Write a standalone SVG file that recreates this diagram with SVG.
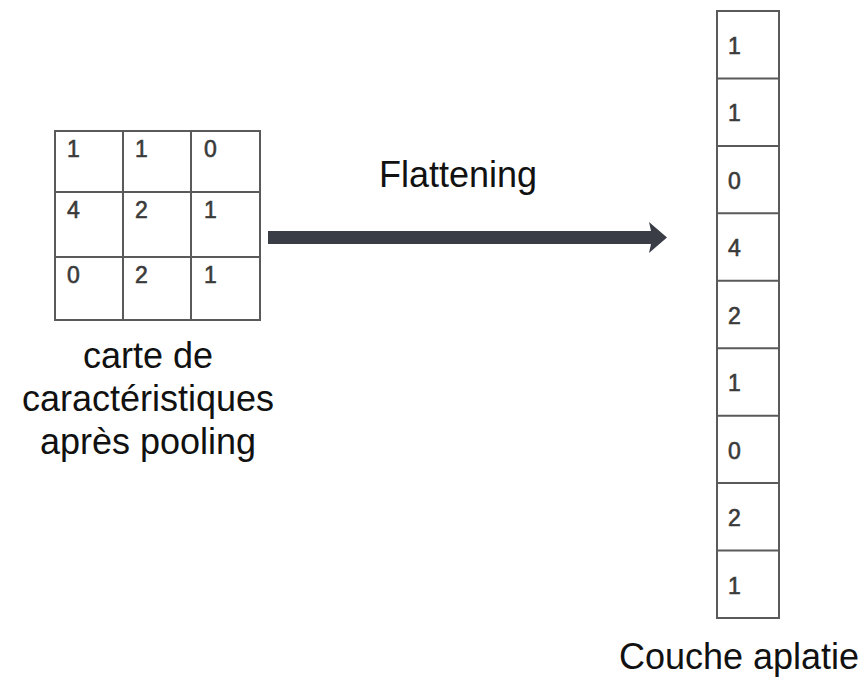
<svg xmlns="http://www.w3.org/2000/svg" width="868" height="686" viewBox="0 0 868 686">
  <style>
    .cell { fill: #ffffff; stroke: #5a5a5a; stroke-width: 2; }
    .num { font-family: "Liberation Sans", Arial, sans-serif; font-size: 23px; fill: #3a3a3a; stroke: #3a3a3a; stroke-width: 0.6; }
    .label { font-family: "Liberation Sans", Arial, sans-serif; font-size: 36px; fill: #111111; }
    .arrow { fill: #3a3d46; }
  </style>
  <rect width="868" height="686" fill="#ffffff"/>

  <!-- pooled feature map, 3x3 -->
  <g id="feature-map">
    <rect class="cell" x="55" y="131" width="205" height="189"/>
    <line class="cell" x1="123" y1="131" x2="123" y2="320"/>
    <line class="cell" x1="191" y1="131" x2="191" y2="320"/>
    <line class="cell" x1="55" y1="192" x2="260" y2="192"/>
    <line class="cell" x1="55" y1="257" x2="260" y2="257"/>
    <text class="num" x="67" y="157">1</text>
    <text class="num" x="135" y="157">1</text>
    <text class="num" x="204" y="157">0</text>
    <text class="num" x="67" y="218">4</text>
    <text class="num" x="135" y="218">2</text>
    <text class="num" x="204" y="218">1</text>
    <text class="num" x="67" y="283">0</text>
    <text class="num" x="135" y="283">2</text>
    <text class="num" x="204" y="283">1</text>
  </g>

  <g id="feature-map-label">
    <text class="label" x="148" y="368" text-anchor="middle">carte de</text>
    <text class="label" x="148" y="411" text-anchor="middle">caractéristiques</text>
    <text class="label" x="148" y="454" text-anchor="middle">après pooling</text>
  </g>

  <!-- flattening step: thick shaft with a solid head -->
  <g id="connectors">
    <polygon class="arrow" points="268,231 651,231 649,222 667,237.5 649,253 651,244 268,244"/>
  </g>
  <g id="flatten-label">
    <text class="label" x="458" y="187" text-anchor="middle">Flattening</text>
  </g>

  <!-- flattened column, 9 cells -->
  <g id="flat-layer">
    <rect class="cell" x="717" y="11" width="62" height="607"/>
    <line class="cell" x1="717" y1="78.4" x2="779" y2="78.4"/>
    <line class="cell" x1="717" y1="145.9" x2="779" y2="145.9"/>
    <line class="cell" x1="717" y1="213.3" x2="779" y2="213.3"/>
    <line class="cell" x1="717" y1="280.8" x2="779" y2="280.8"/>
    <line class="cell" x1="717" y1="348.2" x2="779" y2="348.2"/>
    <line class="cell" x1="717" y1="415.7" x2="779" y2="415.7"/>
    <line class="cell" x1="717" y1="483.1" x2="779" y2="483.1"/>
    <line class="cell" x1="717" y1="550.6" x2="779" y2="550.6"/>
    <text class="num" x="728" y="54">1</text>
    <text class="num" x="728" y="121.4">1</text>
    <text class="num" x="728" y="188.9">0</text>
    <text class="num" x="728" y="256.3">4</text>
    <text class="num" x="728" y="323.8">2</text>
    <text class="num" x="728" y="391.2">1</text>
    <text class="num" x="728" y="458.7">0</text>
    <text class="num" x="728" y="526.1">2</text>
    <text class="num" x="728" y="593.6">1</text>
  </g>

  <g id="flat-layer-label">
    <text class="label" x="739" y="669" text-anchor="middle">Couche aplatie</text>
  </g>
</svg>
